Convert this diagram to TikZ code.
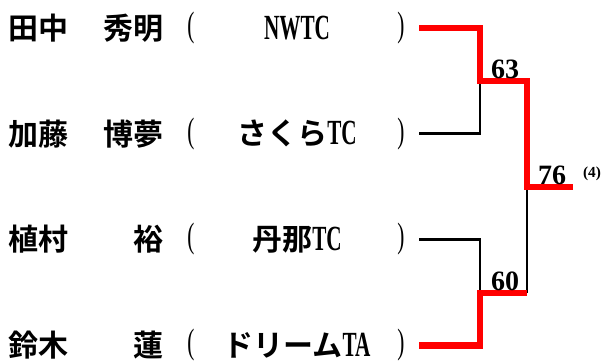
\documentclass[tikz,border=0pt]{standalone}
\usepackage{fontspec}
\newfontfamily\cjk{Noto Sans CJK JP}[BoldFont={* Bold}]
\newfontfamily\lat{Liberation Serif}[FakeStretch=0.6]
\newfontfamily\num{Liberation Serif}
\newcommand{\la}[1]{{\lat\bfseries\fontsize{26.5}{26.5}\selectfont #1}}
\begin{document}
\begin{tikzpicture}[x=0.75pt,y=-0.75pt,
  nm/.style={inner sep=0pt,font=\cjk\bfseries\fontsize{22.5}{22.5}\selectfont},
  pr/.style={inner sep=0pt,font=\lat\fontsize{26.5}{26.5}\selectfont},
  sc/.style={inner sep=0pt,font=\num\bfseries\fontsize{21}{21}\selectfont,anchor=south},
  win/.style={draw=red,line width=5.2pt,line join=miter},
  lose/.style={draw=black,line width=2.2pt,line join=miter}]
\useasboundingbox (0,0) rectangle (606,363);
% rows
\foreach \r/\s/\g/\t in {1/田中/秀明/{\la{NWTC}},
                        2/加藤/博夢/{さくら\la{TC}},
                        3/植村/裕/{丹那\la{TC}},
                        4/鈴木/蓮/{ドリーム\la{TA}}}{
  \pgfmathsetmacro{\yy}{28+(\r-1)*105.7}
  \node[nm,anchor=west] (s\r) at (8,\yy) {\s};
  \node[nm,anchor=east] (g\r) at (164,\yy) {\g};
  \node[pr] (o\r) at (191,\yy) {(};
  \node[nm] (t\r) at (297,\yy) {\t};
  \node[pr] (c\r) at (401,\yy) {)};
  \coordinate (p\r) at (419,\yy);
}
\coordinate (m1) at (480,81);
\coordinate (m2) at (480,293);
\coordinate (f) at (527,187);
\coordinate (fe) at (573,187);
% losers
\draw[lose] (p2) -| (m1);
\draw[lose] (p3) -| (m2);
\draw[lose] (m2 -| f) -- (f);
% winners
\draw[win] (p1) -| (m1) -| (f) -- (fe);
\draw[win] (p4) -| (m2) -- (m2 -| f);
% scores
\node[sc] (s63) at (505,79) {63};
\node[sc] (s60) at (505,291) {60};
\node[sc] (s76) at (552,185) {76};
\node[inner sep=0pt,font=\num\bfseries\fontsize{11.5}{11.5}\selectfont] (n4) at (592,174) {(4)};
\end{tikzpicture}
\end{document}
